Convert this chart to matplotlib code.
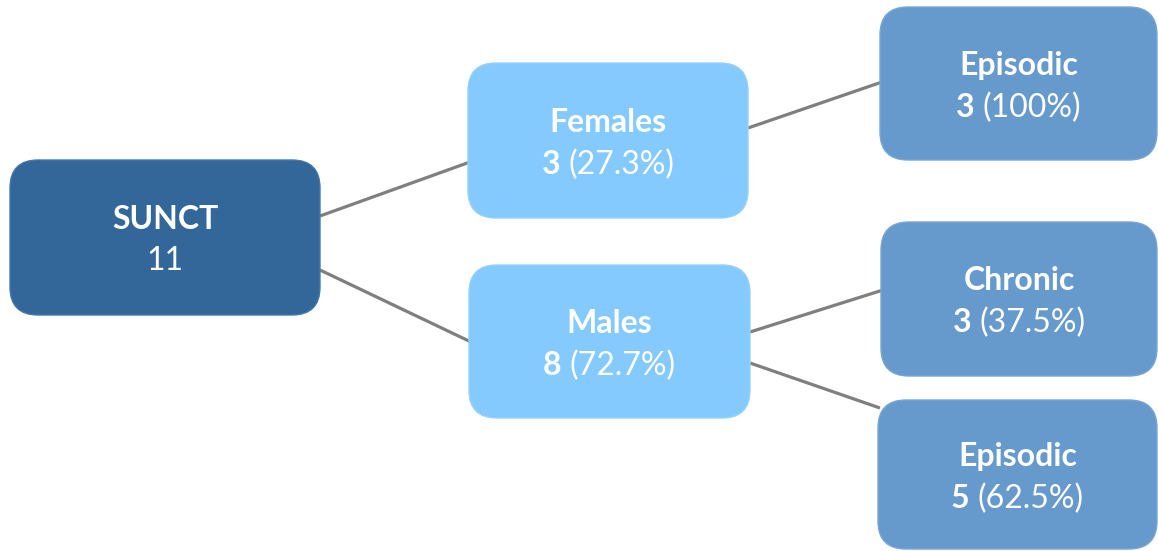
import matplotlib.pyplot as plt
from matplotlib.patches import FancyBboxPatch

# node data
titles = ["SUNCT", "Females", "Males", "Episodic", "Chronic", "Episodic"]
counts = ["11", "3", "8", "3", "3", "5"]
percents = ["", "(27.3%)", "(72.7%)", "(100%)", "(37.5%)", "(62.5%)"]
parents = [None, 0, 0, 1, 2, 2]

# layout (pixel space): left, top, right, bottom
boxes = [(10, 160, 320, 315), (468, 63, 748, 218), (469, 265, 750, 418),
         (880, 7, 1157, 160), (881, 222, 1157, 376), (878, 400, 1157, 549)]
colors = ["#336699", "#84CAFF", "#84CAFF", "#6699CC", "#6699CC", "#6699CC"]
edges = ["#4677A8", "#95D1FF", "#95D1FF", "#78A6D4", "#78A6D4", "#78A6D4"]
# connector y at parent side / child side
link_y = {1: (216, 162), 2: (270, 342), 3: (128, 82), 4: (332, 290), 5: (363, 408)}

plt.rcParams["font.family"] = ["Lato", "DejaVu Sans"]
fig = plt.figure(figsize=(11.58, 5.51), dpi=100)
ax = fig.add_axes([0, 0, 1, 1])
ax.set_xlim(0, 1158)
ax.set_ylim(551, 0)
ax.axis("off")

for i, p in enumerate(parents):
    if p is None:
        continue
    y0, y1 = link_y[i]
    ax.plot([boxes[p][2], boxes[i][0] + 2], [y0, y1], color="#7F7F7F",
            lw=2.3, zorder=1, solid_capstyle="butt")

fig.canvas.draw()
renderer = fig.canvas.get_renderer()
fs = 23

for i, (l, t, r, b) in enumerate(boxes):
    ax.add_patch(FancyBboxPatch((l, t), r - l, b - t,
                                boxstyle="round,pad=0,rounding_size=28",
                                fc=colors[i], ec=edges[i], lw=1, zorder=2))
    cx = (l + r) / 2
    cy = (t + b) / 2
    ax.text(cx, cy - 18, titles[i], color="white", fontsize=fs,
            fontweight="bold", ha="center", va="center", zorder=3)
    if percents[i] == "":
        ax.text(cx, cy + 24, counts[i], color="white", fontsize=fs,
                ha="center", va="center", zorder=3)
        continue
    t1 = ax.text(0, cy + 24, counts[i] + " ", color="white", fontsize=fs,
                 fontweight="bold", ha="left", va="center", zorder=3)
    t2 = ax.text(0, cy + 24, percents[i], color="white", fontsize=fs,
                 ha="left", va="center", zorder=3)
    w1 = t1.get_window_extent(renderer).width
    w2 = t2.get_window_extent(renderer).width
    start = cx - (w1 + w2) / 2
    t1.set_x(start)
    t2.set_x(start + w1)

fig.savefig("out.png", dpi=100)
